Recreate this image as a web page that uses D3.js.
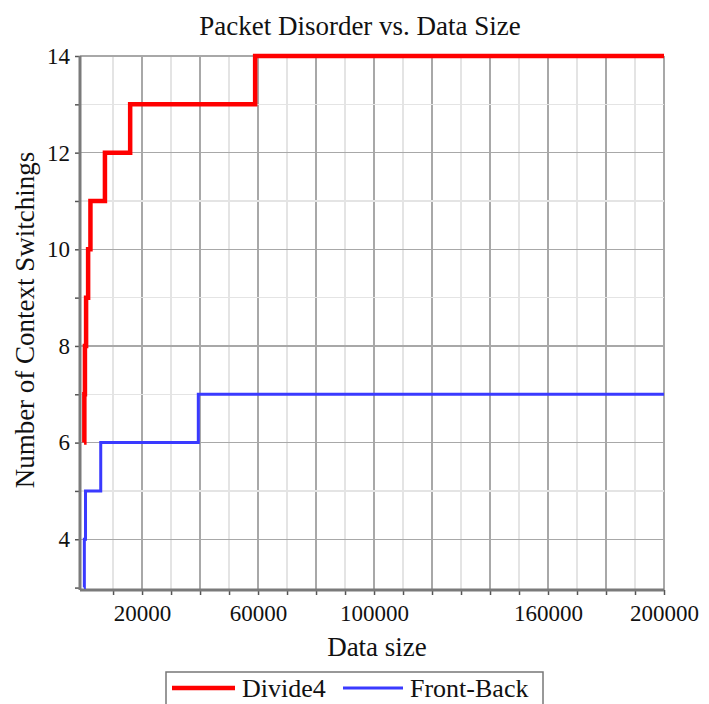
<!DOCTYPE html>
<html>
<head>
<meta charset="utf-8">
<script src="https://cdn.jsdelivr.net/npm/d3@7"></script>
<style>
  html, body { margin: 0; padding: 0; background: #fff; }
  svg { display: block; font-family: "Liberation Serif", "Times New Roman", serif; }
  .grid line { shape-rendering: crispEdges; }
  .axis path { display: none; }
  .axis line { stroke: #555; stroke-width: 1.5; }
  .axis text { font-size: 23px; fill: #111; font-family: "Liberation Serif", serif; }
</style>
</head>
<body>
<svg id="chart" width="709" height="704"></svg>
<script>
// Packet disorder vs data size — two step series.

const divide4X = [0, 100, 300, 700, 1400, 2200, 7200, 15900, 59000, 200000];
const divide4Y = [6, 7, 8, 9, 10, 11, 12, 13, 14, 14];
const frontBackX = [0, 100, 500, 5750, 39400, 200000];
const frontBackY = [3, 4, 5, 6, 7, 7];

const xTicks = d3.range(10000, 200001, 10000);
const xLabels = [20000, 60000, 100000, 160000, 200000];
const yTicks = d3.range(3, 15, 1);
const yLabels = [4, 6, 8, 10, 12, 14];

const series = [
  { name: 'Divide4', xs: divide4X, ys: divide4Y, color: '#ff0000', width: 4.5 },
  { name: 'Front-Back', xs: frontBackX, ys: frontBackY, color: '#3a3aff', width: 3 },
];

const svg = d3.select('#chart');
const plotL = 80, plotR = 664, plotT = 56, plotB = 590;

const x = d3.scaleLinear().domain([-1400, 200000]).range([plotL, plotR]);
const y = d3.scaleLinear().domain([2.95, 14]).range([plotB, plotT]);

// grid: light at odd steps, darker on major steps
const grid = svg.append('g').attr('class', 'grid');
grid.selectAll('line.vx').data(xTicks).join('line')
  .attr('x1', d => x(d)).attr('x2', d => x(d))
  .attr('y1', plotT).attr('y2', plotB)
  .attr('stroke', d => d % 20000 === 0 ? '#a8a8a8' : '#e4e4e4')
  .attr('stroke-width', 1.5);
grid.selectAll('line.hy').data(yTicks.filter(d => d > 3)).join('line')
  .attr('x1', plotL).attr('x2', plotR)
  .attr('y1', d => y(d)).attr('y2', d => y(d))
  .attr('stroke', d => d % 2 === 0 ? '#a8a8a8' : '#e4e4e4')
  .attr('stroke-width', 1.5);

// axes
svg.append('g').attr('class', 'axis')
  .attr('transform', `translate(0,${plotB})`)
  .call(d3.axisBottom(x).tickValues(xTicks).tickSize(5).tickPadding(10)
    .tickFormat(d => xLabels.includes(d) ? d : ''));
svg.append('g').attr('class', 'axis')
  .attr('transform', `translate(${plotL},0)`)
  .call(d3.axisLeft(y).tickValues(yTicks).tickSize(5).tickPadding(5)
    .tickFormat(d => yLabels.includes(d) ? d : ''));

svg.append('line').attr('x1', plotL).attr('x2', plotL).attr('y1', plotT).attr('y2', plotB)
  .attr('stroke', '#7a7a7a').attr('stroke-width', 3);
svg.append('line').attr('x1', plotL).attr('x2', plotR).attr('y1', plotB).attr('y2', plotB)
  .attr('stroke', '#7a7a7a').attr('stroke-width', 3);

// series
const line = d3.line().curve(d3.curveStepAfter).x(d => x(d[0])).y(d => y(d[1]));
series.forEach(s => {
  svg.append('path')
    .datum(s.xs.map((v, i) => [v, s.ys[i]]))
    .attr('fill', 'none')
    .attr('stroke', s.color)
    .attr('stroke-width', s.width)
    .attr('d', line);
});

// titles
svg.append('text').attr('x', 360).attr('y', 35).attr('text-anchor', 'middle')
  .attr('font-size', 27).attr('fill', '#111').text('Packet Disorder vs. Data Size');
svg.append('text').attr('x', 377).attr('y', 656).attr('text-anchor', 'middle')
  .attr('font-size', 27).attr('fill', '#111').text('Data size');
svg.append('text').attr('transform', `translate(34,${(plotT + plotB) / 2 - 3}) rotate(-90)`)
  .attr('text-anchor', 'middle').attr('font-size', 27).attr('fill', '#111')
  .text('Number of Context Switchings');

// legend
const lg = svg.append('g');
lg.append('rect').attr('x', 166).attr('y', 672).attr('width', 377).attr('height', 40)
  .attr('fill', '#fff').attr('stroke', '#777').attr('stroke-width', 1.5);
const legendItems = [
  { s: series[0], x0: 172, x1: 235, tx: 242 },
  { s: series[1], x0: 343, x1: 403, tx: 410 },
];
legendItems.forEach(it => {
  lg.append('line').attr('x1', it.x0).attr('x2', it.x1).attr('y1', 688).attr('y2', 688)
    .attr('stroke', it.s.color).attr('stroke-width', it.s.width);
  lg.append('text').attr('x', it.tx).attr('y', 697).attr('font-size', 26).attr('fill', '#111')
    .text(it.s.name);
});
</script>
</body>
</html>
